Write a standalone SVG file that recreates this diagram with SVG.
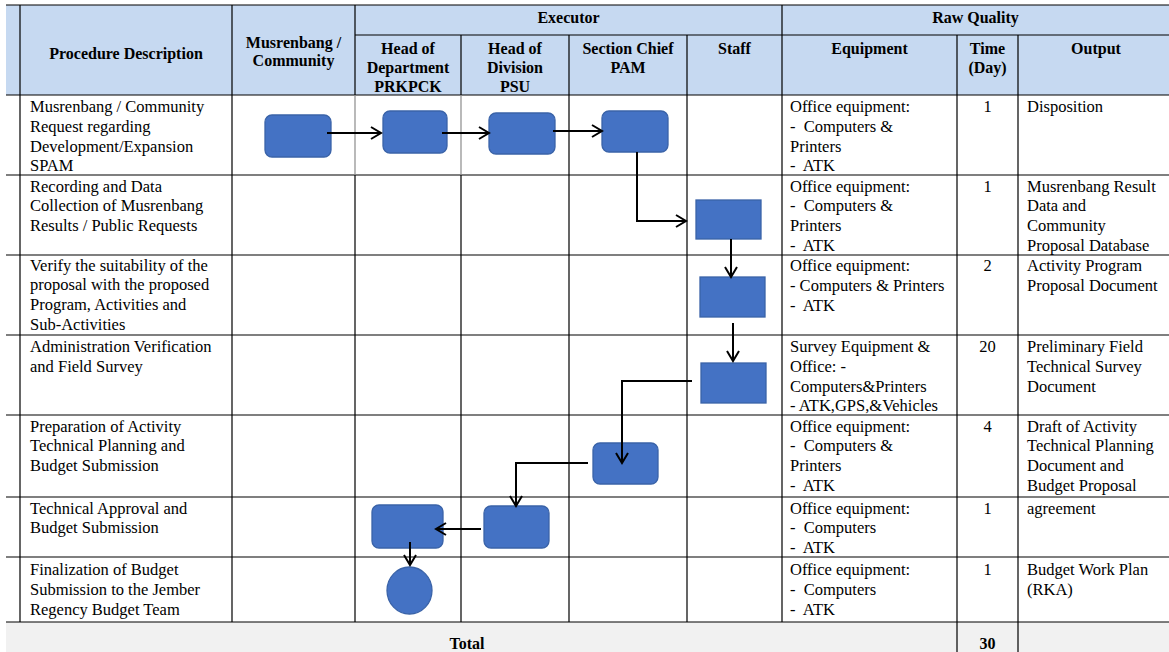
<svg xmlns="http://www.w3.org/2000/svg" width="1169" height="652" viewBox="0 0 1169 652">
<style>
text{font-family:"Liberation Serif","Times New Roman",serif;fill:#000}
.h{font-size:16px;font-weight:bold;text-anchor:middle}
.b{font-size:16.5px}
.c{text-anchor:middle}
.tl{stroke:#000;stroke-width:1.2;fill:none}
.tg{stroke:#8c8c8c;stroke-width:1.2;fill:none}
.nd{fill:#4472C4;stroke:#3A63A8;stroke-width:1.3}
.cn{stroke:#000;stroke-width:2;fill:none;marker-end:url(#ah)}
</style>
<defs>
<marker id="ah" markerUnits="userSpaceOnUse" markerWidth="14" markerHeight="16" refX="11" refY="7" orient="auto">
<path d="M1,1 L11,7 L1,13" fill="none" stroke="#000" stroke-width="2"/>
</marker>
</defs>
<rect x="0" y="0" width="1169" height="652" fill="#fff"/>
<g id="table">
<rect x="6" y="5" width="1163" height="90" fill="#C6D9F1"/>
<rect x="6" y="622" width="1163" height="30" fill="#F1F1F1"/>
<path class="tl" d="M6,5H1169M355,35H1169M6,95H1169M6,175H1169M6,255H1169M6,335H1169M6,415H1169M6,497H1169M6,557H1169M6,622H1169"/>
<path class="tl" d="M20,5V622M232,5V622M355,5V95M355,175V622M461,35V95M461,175V622M569,35V622M687,35V622M782,5V622M957,35V652M1018,35V652"/>
<path class="tg" d="M355,95V175M461,95V175"/>
</g>
<g id="header">
<text class="h" x="126" y="59">Procedure Description</text>
<text class="h" x="293.5" y="48">Musrenbang /</text>
<text class="h" x="293.5" y="66">Community</text>
<text class="h" x="568.5" y="23">Executor</text>
<text class="h" x="975.5" y="23">Raw Quality</text>
<text class="h" x="408" y="54">Head of</text>
<text class="h" x="408" y="73">Department</text>
<text class="h" x="408" y="92">PRKPCK</text>
<text class="h" x="515" y="54">Head of</text>
<text class="h" x="515" y="73">Division</text>
<text class="h" x="515" y="92">PSU</text>
<text class="h" x="628" y="54">Section Chief</text>
<text class="h" x="628" y="73">PAM</text>
<text class="h" x="734.5" y="54">Staff</text>
<text class="h" x="869.5" y="54">Equipment</text>
<text class="h" x="987.5" y="54">Time</text>
<text class="h" x="987.5" y="73">(Day)</text>
<text class="h" x="1096" y="54">Output</text>
</g>
<g id="procedures" class="b">
<text x="30" y="112">Musrenbang / Community</text>
<text x="30" y="131.8">Request regarding</text>
<text x="30" y="151.6">Development/Expansion</text>
<text x="30" y="171.4">SPAM</text>
<text x="30" y="191.5">Recording and Data</text>
<text x="30" y="211.3">Collection of Musrenbang</text>
<text x="30" y="231.1">Results / Public Requests</text>
<text x="30" y="270.5">Verify the suitability of the</text>
<text x="30" y="290.3">proposal with the proposed</text>
<text x="30" y="310.1">Program, Activities and</text>
<text x="30" y="329.9">Sub-Activities</text>
<text x="30" y="351.7">Administration Verification</text>
<text x="30" y="371.5">and Field Survey</text>
<text x="30" y="431.5">Preparation of Activity</text>
<text x="30" y="451.3">Technical Planning and</text>
<text x="30" y="471.1">Budget Submission</text>
<text x="30" y="513.5">Technical Approval and</text>
<text x="30" y="533.3">Budget Submission</text>
<text x="30" y="575">Finalization of Budget</text>
<text x="30" y="594.8">Submission to the Jember</text>
<text x="30" y="614.6">Regency Budget Team</text>
</g>
<g id="equipment" class="b">
<text x="790" y="112">Office equipment:</text>
<text x="790" y="131.8" xml:space="preserve">-  Computers &amp;</text>
<text x="790" y="151.6">Printers</text>
<text x="790" y="171.4" xml:space="preserve">-  ATK</text>
<text x="790" y="191.5">Office equipment:</text>
<text x="790" y="211.3" xml:space="preserve">-  Computers &amp;</text>
<text x="790" y="231.1">Printers</text>
<text x="790" y="250.9" xml:space="preserve">-  ATK</text>
<text x="790" y="271">Office equipment:</text>
<text x="790" y="290.8">- Computers &amp; Printers</text>
<text x="790" y="310.6" xml:space="preserve">-  ATK</text>
<text x="790" y="352">Survey Equipment &amp;</text>
<text x="790" y="371.8">Office: -</text>
<text x="790" y="391.6">Computers&amp;Printers</text>
<text x="790" y="411.4">- ATK,GPS,&amp;Vehicles</text>
<text x="790" y="431.5">Office equipment:</text>
<text x="790" y="451.3" xml:space="preserve">-  Computers &amp;</text>
<text x="790" y="471.1">Printers</text>
<text x="790" y="490.9" xml:space="preserve">-  ATK</text>
<text x="790" y="513.5">Office equipment:</text>
<text x="790" y="533.3" xml:space="preserve">-  Computers</text>
<text x="790" y="553.1" xml:space="preserve">-  ATK</text>
<text x="790" y="575">Office equipment:</text>
<text x="790" y="594.8" xml:space="preserve">-  Computers</text>
<text x="790" y="614.6" xml:space="preserve">-  ATK</text>
</g>
<g id="time" class="b">
<text class="c" x="987.5" y="112">1</text>
<text class="c" x="987.5" y="191.5">1</text>
<text class="c" x="987.5" y="271">2</text>
<text class="c" x="987.5" y="352">20</text>
<text class="c" x="987.5" y="431.5">4</text>
<text class="c" x="987.5" y="513.5">1</text>
<text class="c" x="987.5" y="575">1</text>
</g>
<g id="output" class="b">
<text x="1027" y="112">Disposition</text>
<text x="1027" y="191.5">Musrenbang Result</text>
<text x="1027" y="211.3">Data and</text>
<text x="1027" y="231.1">Community</text>
<text x="1027" y="250.9">Proposal Database</text>
<text x="1027" y="271">Activity Program</text>
<text x="1027" y="290.8">Proposal Document</text>
<text x="1027" y="352">Preliminary Field</text>
<text x="1027" y="371.8">Technical Survey</text>
<text x="1027" y="391.6">Document</text>
<text x="1027" y="431.5">Draft of Activity</text>
<text x="1027" y="451.3">Technical Planning</text>
<text x="1027" y="471.1">Document and</text>
<text x="1027" y="490.9">Budget Proposal</text>
<text x="1027" y="513.5">agreement</text>
<text x="1027" y="575">Budget Work Plan</text>
<text x="1027" y="594.8">(RKA)</text>
</g>
<g id="total">
<text class="h" x="467" y="649">Total</text>
<text class="h" x="987.5" y="649">30</text>
</g>
<g id="node-musrenbang"><rect class="nd" x="265" y="115" width="66" height="42" rx="7"/></g>
<g id="node-hod-1"><rect class="nd" x="383" y="111" width="64" height="42" rx="7"/></g>
<g id="node-hodiv-1"><rect class="nd" x="489" y="113" width="66" height="41" rx="7"/></g>
<g id="node-sc-1"><rect class="nd" x="602" y="111" width="66" height="41" rx="7"/></g>
<g id="node-staff-2"><rect class="nd" x="696" y="200" width="65" height="39"/></g>
<g id="node-staff-3"><rect class="nd" x="700" y="277" width="65" height="40"/></g>
<g id="node-staff-4"><rect class="nd" x="701" y="363" width="65" height="40"/></g>
<g id="node-sc-5"><rect class="nd" x="593" y="443" width="65" height="41" rx="7"/></g>
<g id="node-hodiv-6"><rect class="nd" x="484" y="506" width="65" height="42" rx="7"/></g>
<g id="node-hod-6"><rect class="nd" x="372" y="505" width="71" height="43" rx="7"/></g>
<g id="node-end"><ellipse class="nd" cx="409.5" cy="590.5" rx="22.5" ry="23.5"/></g>
<g id="connectors">
<path class="cn" d="M327,133H381"/>
<path class="cn" d="M442,133H489"/>
<path class="cn" d="M553,131H602"/>
<path class="cn" d="M637,152V221H686"/>
<path class="cn" d="M731,239V277"/>
<path class="cn" d="M733,323V361"/>
<path class="cn" d="M692,381H622V463"/>
<path class="cn" d="M588,463H516V506"/>
<path class="cn" d="M481,529H436"/>
<path class="cn" d="M410,542V565"/>
</g>
</svg>
